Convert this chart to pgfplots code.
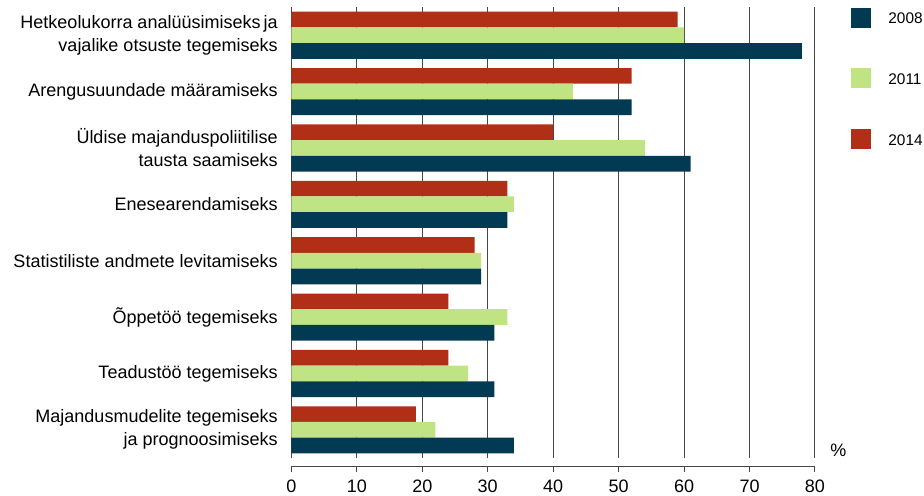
\documentclass[border=0pt]{standalone}
\usepackage{fontspec}
\setmainfont{Liberation Sans}
\usepackage{pgfplots}
\pgfplotsset{compat=1.18}

\definecolor{c2008}{RGB}{2,57,83}
\definecolor{c2011}{RGB}{192,228,132}
\definecolor{c2014}{RGB}{177,46,23}
\definecolor{gridc}{RGB}{70,70,70}

\begin{document}
\fontsize{9}{11.5}\selectfont
\begin{tikzpicture}
\useasboundingbox (0,0) rectangle (462pt,247.5pt);
\begin{axis}[
  at={(145.7pt,18.5pt)}, anchor=south west,
  scale only axis, width=261.8pt, height=225.5pt,
  xmin=0, xmax=80, ymin=-0.5, ymax=7.5, y dir=reverse,
  xbar, bar width=7.85pt,
  axis x line*=bottom, axis y line*=left,
  x axis line style={-, draw=gridc, line width=0.5pt, yshift=-4pt},
  y axis line style={-, draw=gridc, line width=0.5pt},
  xtick={0,10,...,80},
  tick align=outside, major tick length=3pt,
  xtick style={draw=gridc, line width=0.5pt, yshift=-4pt},
  xmajorgrids, major grid style={draw=gridc, line width=0.5pt},
  ytick={0,...,7}, ytick style={draw=none},
  yticklabels={
    {Hetkeolukorra analüüsimiseks\hspace{1.5pt}ja\\vajalike otsuste tegemiseks},
    {Arengusuundade määramiseks},
    {Üldise majanduspoliitilise\\tausta saamiseks},
    {Enesearendamiseks},
    {Statistiliste andmete levitamiseks},
    {Õppetöö tegemiseks},
    {Teadustöö tegemiseks},
    {Majandusmudelite tegemiseks\\ja prognoosimiseks}},
  tick label style={font=\fontsize{9}{11.5}\selectfont, text=black},
  yticklabel style={align=right, anchor=east, inner sep=0pt, xshift=-3.7pt},
  xticklabel style={anchor=north, inner sep=0pt, yshift=-8pt},
  /pgf/number format/assume math mode=true,
  clip=false,
]
% 2014 (top bar of each group)
\addplot[draw=none, fill=c2014, bar shift=7.85pt] coordinates {
  (59,0) (52,1) (40,2) (33,3) (28,4) (24,5) (24,6) (19,7)};
% 2011 (middle bar)
\addplot[draw=none, fill=c2011, bar shift=0pt] coordinates {
  (60,0) (43,1) (54,2) (34,3) (29,4) (33,5) (27,6) (22,7)};
% 2008 (bottom bar)
\addplot[draw=none, fill=c2008, bar shift=-7.85pt] coordinates {
  (78,0) (52,1) (61,2) (33,3) (29,4) (31,5) (31,6) (34,7)};
\end{axis}
% unit of the value axis
\node[anchor=west, inner sep=0pt] at (415pt,22.25pt) {\%};
% legend
\fill[c2008] (425.5pt,233.75pt) rectangle (435.5pt,243.75pt);
\fill[c2011] (425.5pt,203.5pt) rectangle (435.5pt,213.5pt);
\fill[c2014] (425.5pt,173pt) rectangle (435.5pt,183pt);
\begin{scope}[every node/.style={anchor=west, inner sep=0pt, font=\fontsize{7.7}{9}\selectfont}]
\node at (444pt,238.25pt) {2008};
\node at (444pt,208pt) {2011};
\node at (444pt,177.5pt) {2014};
\end{scope}
\end{tikzpicture}
\end{document}
